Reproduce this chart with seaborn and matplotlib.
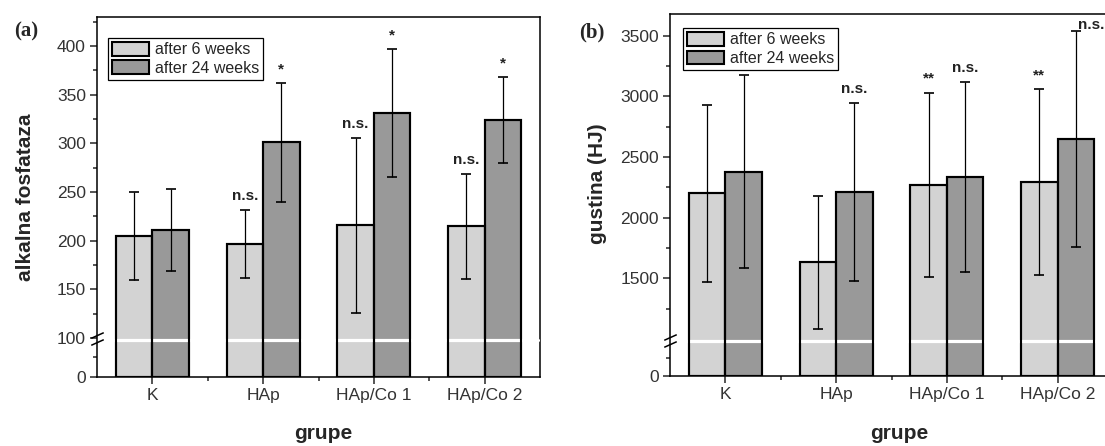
import numpy as np
import pandas as pd
import matplotlib
matplotlib.use('Agg')
import matplotlib.pyplot as plt
from matplotlib.patches import Patch, Rectangle
import seaborn as sns

# data
groups = ['K', 'HAp', 'HAp/Co 1', 'HAp/Co 2']
periods = ['after 6 weeks', 'after 24 weeks']

alp_6w = [205, 197, 216, 215]
alp_6w_sd = [45, 35, 90, 54]
alp_24w = [211, 301, 331, 324]
alp_24w_sd = [42, 61, 66, 44]
alp_sig_6w = ['', 'n.s.', 'n.s.', 'n.s.']
alp_sig_24w = ['', '*', '*', '*']

dens_6w = [2200, 1632, 2272, 2296]
dens_6w_sd = [732, 547, 758, 766]
dens_24w = [2379, 2214, 2337, 2651]
dens_24w_sd = [794, 736, 783, 890]
dens_sig_6w = ['', '', '**', '**']
dens_sig_24w = ['', 'n.s.', 'n.s.', 'n.s.']

alp_major = [0, 100, 150, 200, 250, 300, 350, 400]
alp_minor = [50, 125, 175, 225, 275, 325, 375, 425]
dens_major = [0, 1500, 2000, 2500, 3000, 3500]
dens_minor = [500, 1250, 1750, 2250, 2750, 3250]

light = '#d3d3d3'
dark = '#999999'

sns.set_style('ticks')
plt.rcParams['font.family'] = ['Liberation Sans', 'DejaVu Sans']
plt.rcParams['axes.edgecolor'] = 'black'
plt.rcParams['axes.linewidth'] = 1.1


def panel(ax, v6, s6, v24, s24, sig6, sig24, brk, k_lo, k_hi, ymax,
          major, minor, ylabel, edge_shift=None):
    df = pd.DataFrame({'grupa': groups * 2,
                       'period': [periods[0]] * 4 + [periods[1]] * 4,
                       'val': v6 + v24})
    sns.barplot(data=df, x='grupa', y='val', hue='period', palette=[light, dark],
                saturation=1, width=0.66, edgecolor='black', linewidth=1.5,
                errorbar=None, legend=False, ax=ax, zorder=1)

    # broken axis as a piecewise linear scale
    def fwd(y):
        y = np.asarray(y, dtype=float)
        return np.where(y < brk, y * k_lo, brk * k_lo + (y - brk) * k_hi)

    def inv(u):
        u = np.asarray(u, dtype=float)
        return np.where(u < brk * k_lo, u / k_lo, brk + (u - brk * k_lo) / k_hi)

    ax.set_yscale('function', functions=(fwd, inv))
    ax.set_ylim(0, ymax)
    ax.set_xlim(-0.5, 3.5)

    # white gap across bars, under the outlines
    ax.axhline(float(inv(brk * k_lo - 2)), xmin=0.004, xmax=0.996,
               color='white', lw=2.3, zorder=3)
    for p in list(ax.patches):
        ax.add_patch(Rectangle(p.get_xy(), p.get_width(), p.get_height(),
                               fill=False, edgecolor='black', lw=1.5, zorder=4))

    for j, (cont, vals, sds, sigs) in enumerate(zip(ax.containers, [v6, v24],
                                                   [s6, s24], [sig6, sig24])):
        xs = [p.get_x() + p.get_width() / 2 for p in cont]
        ax.errorbar(xs, vals, yerr=sds, fmt='none', ecolor='black',
                    elinewidth=0.9, capsize=3.5, capthick=1.2, zorder=5)
        for i, (x, v, s, t) in enumerate(zip(xs, vals, sds, sigs)):
            if not t:
                continue
            dx, dy, ha = 0, 5, 'center'
            if edge_shift is not None and edge_shift[:2] == (j, i):
                dx, dy, ha = edge_shift[2], edge_shift[3], 'left'
            ax.annotate(t, (x, v + s), xytext=(dx, dy), textcoords='offset points',
                        ha=ha, va='bottom', fontsize=11, fontweight='bold',
                        color='#222222', annotation_clip=False)

    # break marks on the left spine
    u0 = brk * k_lo - 1
    ys = inv(np.array([u0 + 3.5, u0 - 3.5]))
    ax.plot([0, 0], ys, transform=ax.get_yaxis_transform(),
            marker=[(-1, -0.45), (1, 0.45)], markersize=9, linestyle='none',
            color='black', mew=1.1, clip_on=False, zorder=6)

    ax.set_yticks(major, labels=[str(m) for m in major])
    ax.set_yticks(minor, minor=True)
    ax.set_xticks(range(4), labels=groups)
    ax.set_xticks([0.5, 1.5, 2.5], minor=True)
    ax.tick_params(which='major', direction='out', length=5, width=1.1,
                   labelsize=12.5, labelcolor='#333333', pad=3)
    ax.tick_params(which='minor', direction='out', length=3, width=1.1)
    for sp in ax.spines.values():
        sp.set_visible(True)
        sp.set_linewidth(1.1)

    ax.set_ylabel(ylabel, fontsize=15, fontweight='bold')
    ax.set_xlabel('grupe', fontsize=15, fontweight='bold')

    handles = [Patch(facecolor=c, edgecolor='black', lw=1.5) for c in (light, dark)]
    return handles


fig = plt.figure(figsize=(11.05, 4.46), dpi=100)
ax1 = fig.add_axes([97 / 1105, 69 / 446, 443 / 1105, 360 / 446])
ax2 = fig.add_axes([670 / 1105, 70 / 446, 443 / 1105, 362 / 446])

h = panel(ax1, alp_6w, alp_6w_sd, alp_24w, alp_24w_sd, alp_sig_6w, alp_sig_24w,
          100, 0.39, 0.97, 430, alp_major, alp_minor, 'alkalna fosfataza')
leg = ax1.legend(h, periods, loc='upper left', bbox_to_anchor=(0.025, 0.942),
                 fancybox=False, edgecolor='black', framealpha=1, fontsize=11.5,
                 handlelength=2.3, handleheight=0.95, handletextpad=0.4,
                 labelspacing=0.2, borderpad=0.25, borderaxespad=0)
leg.get_frame().set_linewidth(0.9)

h = panel(ax2, dens_6w, dens_6w_sd, dens_24w, dens_24w_sd, dens_sig_6w, dens_sig_24w,
          1000, 0.037, 0.1214, 3680, dens_major, dens_minor, 'gustina (HJ)',
          edge_shift=(1, 3, 1.5, -1))
leg = ax2.legend(h, periods, loc='upper left', bbox_to_anchor=(0.029, 0.961),
                 fancybox=False, edgecolor='black', framealpha=1, fontsize=11.5,
                 handlelength=2.3, handleheight=0.95, handletextpad=0.4,
                 labelspacing=0.2, borderpad=0.25, borderaxespad=0)
leg.get_frame().set_linewidth(0.9)

ax1.yaxis.set_label_coords(-0.14, 0.5)
ax2.yaxis.set_label_coords(-0.142, 0.53)
ax1.xaxis.set_label_coords(0.51, -0.13)
ax2.xaxis.set_label_coords(0.517, -0.133)

fig.text(26 / 1105, 1 - 31 / 446, '(a)', ha='center', va='center',
         family='Liberation Serif', fontweight='bold', fontsize=15)
fig.text(592 / 1105, 1 - 32 / 446, '(b)', ha='center', va='center',
         family='Liberation Serif', fontweight='bold', fontsize=15)

fig.savefig('out.png', dpi=100)
